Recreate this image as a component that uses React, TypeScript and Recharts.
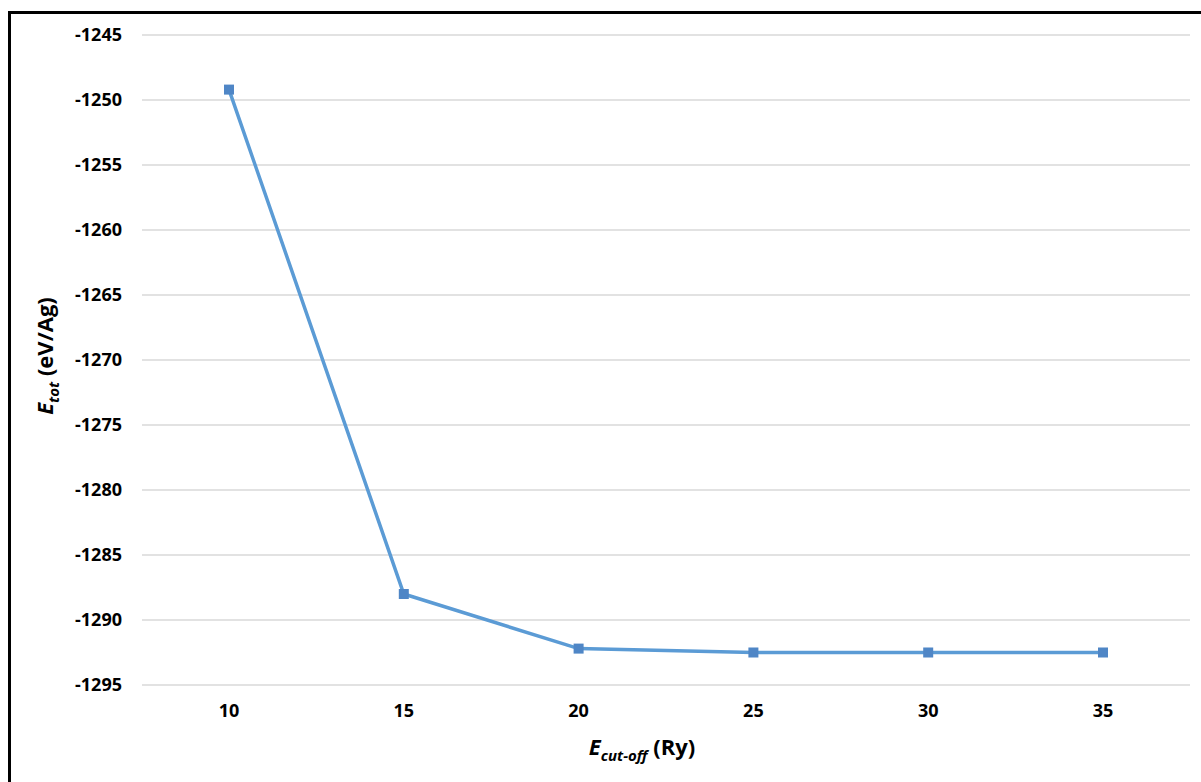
import React from 'react'
import { LineChart, Line, XAxis, YAxis, CartesianGrid } from 'recharts'

const cutoffs = ['10', '15', '20', '25', '30', '35']
const energies = [-1249.2, -1288.0, -1292.2, -1292.5, -1292.5, -1292.5]
const yTicks = [-1295, -1290, -1285, -1280, -1275, -1270, -1265, -1260, -1255, -1250, -1245]

const data = cutoffs.map((c, i) => ({ cutoff: c, energy: energies[i] }))

const FONT = '"Open Sans", "Liberation Sans", sans-serif'
const LINE = '#5B9BD5'
const MARKER = '#4F86C6'

// square marker like Excel
function SquareDot(props: any) {
  const { cx, cy, index } = props
  if (cx == null || cy == null) return null
  return <rect key={`dot-${index}`} x={cx - 5} y={cy - 5} width={10} height={10} fill={MARKER} />
}

export default function App() {
  return (
    <div style={{ position: 'absolute', left: 0, top: 0, width: 1201, height: 782, background: '#fff', overflow: 'hidden' }}>
      <div
        style={{
          position: 'absolute',
          left: 8,
          top: 11,
          width: 1200,
          height: 780,
          borderTop: '3px solid #000',
          borderLeft: '3px solid #000',
        }}
      />
      <div style={{ position: 'absolute', left: 0, top: 0 }}>
        <LineChart width={1201} height={782} data={data} margin={{ top: 35, right: 11, bottom: 67, left: 42 }}>
          <CartesianGrid vertical={false} stroke="#D9D9D9" strokeWidth={1.5} />
          <XAxis
            dataKey="cutoff"
            height={30}
            padding={{ left: 87, right: 87 }}
            axisLine={false}
            tickLine={false}
            tickMargin={13}
            tick={{ fontFamily: FONT, fontSize: 18, fontWeight: 700, fill: '#000' }}
          />
          <YAxis
            width={100}
            domain={[-1295, -1245]}
            ticks={yTicks}
            axisLine={false}
            tickLine={false}
            tickMargin={14}
            tick={{ fontFamily: FONT, fontSize: 18, fontWeight: 700, fill: '#000' }}
          />
          <Line
            type="linear"
            dataKey="energy"
            stroke={LINE}
            strokeWidth={3.5}
            dot={SquareDot}
            activeDot={false}
            isAnimationActive={false}
          />
        </LineChart>
      </div>
      <div
        style={{
          position: 'absolute',
          left: 642,
          top: 748,
          transform: 'translate(-50%, -50%)',
          fontFamily: FONT,
          fontWeight: 700,
          fontSize: 22,
          whiteSpace: 'nowrap',
          color: '#000',
        }}
      >
        <i>E</i>
        <sub style={{ fontStyle: 'italic', fontSize: 15 }}>cut-off</sub> (Ry)
      </div>
      <div
        style={{
          position: 'absolute',
          left: 46,
          top: 356,
          transform: 'translate(-50%, -50%) rotate(-90deg)',
          fontFamily: FONT,
          fontWeight: 700,
          fontSize: 22,
          whiteSpace: 'nowrap',
          color: '#000',
        }}
      >
        <i>E</i>
        <sub style={{ fontStyle: 'italic', fontSize: 15 }}>tot</sub> (eV/Ag)
      </div>
    </div>
  )
}
